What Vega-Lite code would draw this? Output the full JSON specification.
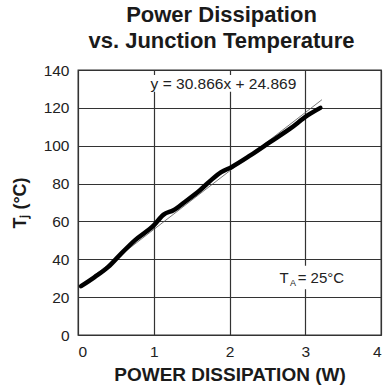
{
  "$schema": "https://vega.github.io/schema/vega-lite/v6.json",
  "autosize": "none",
  "width": 303,
  "height": 265,
  "padding": {"left": 78, "top": 70, "right": 5, "bottom": 50},
  "background": "white",
  "title": {
    "text": ["Power Dissipation", "vs. Junction Temperature"],
    "font": "Liberation Sans",
    "fontSize": 22,
    "fontWeight": "bold",
    "color": "#1a1a1a",
    "anchor": "middle",
    "dx": -8,
    "offset": 10,
    "lineHeight": 26
  },
  "config": {
    "view": {"stroke": "#333", "strokeWidth": 1.3},
    "axis": {
      "labelFont": "Liberation Sans",
      "labelFontSize": 15.5,
      "labelColor": "#222",
      "titleFont": "Liberation Sans",
      "titleFontWeight": "bold",
      "titleColor": "#1a1a1a",
      "ticks": false,
      "domain": false,
      "gridColor": "#333",
      "gridOpacity": 1,
      "gridWidth": 1.2,
      "labelOverlap": false,
      "format": "d"
    },
    "axisX": {"values": [0, 1, 2, 3, 4], "titleFontSize": 19, "labelPadding": 9, "titlePadding": 6},
    "axisY": {"values": [0, 20, 40, 60, 80, 100, 120, 140], "titleFontSize": 18, "labelPadding": 9, "titlePadding": 14}
  },
  "datasets": {
    "measured": [
      {"p": 0.04, "t": 25.8},
      {"p": 0.22, "t": 30.6},
      {"p": 0.4, "t": 36.0},
      {"p": 0.57, "t": 43.0},
      {"p": 0.75, "t": 50.0},
      {"p": 1.0, "t": 57.9},
      {"p": 1.13, "t": 63.6},
      {"p": 1.26, "t": 65.9},
      {"p": 1.41, "t": 70.3},
      {"p": 1.61, "t": 76.5},
      {"p": 1.79, "t": 83.0},
      {"p": 1.89, "t": 86.0},
      {"p": 2.03, "t": 88.8},
      {"p": 2.28, "t": 95.0},
      {"p": 2.54, "t": 102.0},
      {"p": 2.8, "t": 109.0},
      {"p": 3.03, "t": 116.0},
      {"p": 3.2, "t": 120.0}
    ],
    "fit": [
      {"p": 0.04, "t": 26.1},
      {"p": 3.22, "t": 124.3}
    ],
    "notes": [
      {"label": "equation", "text": "y = 30.866x + 24.869"},
      {"label": "ambient", "text": "= 25°C"}
    ]
  },
  "layer": [
    {
      "data": {"name": "fit"},
      "mark": {"type": "line", "color": "#555", "strokeWidth": 0.8},
      "encoding": {
        "x": {
          "field": "p", "type": "quantitative",
          "scale": {"domain": [0, 4], "nice": false},
          "axis": {"values": [0, 1, 2, 3, 4], "title": "POWER DISSIPATION (W)"}
        },
        "y": {
          "field": "t", "type": "quantitative",
          "scale": {"domain": [0, 140], "nice": false},
          "axis": {"values": [0, 20, 40, 60, 80, 100, 120, 140], "title": "Tⱼ (°C)"}
        }
      }
    },
    {
      "data": {"name": "notes"},
      "transform": [{"filter": "datum.label === 'equation'"}],
      "mark": {"type": "rect", "color": "white"},
      "encoding": {
        "x": {"datum": 0.88, "type": "quantitative", "axis": {"values": [0, 1, 2, 3, 4], "title": "POWER DISSIPATION (W)"}},
        "x2": {"datum": 2.95},
        "y": {"datum": 128.5, "type": "quantitative", "axis": {"values": [0, 20, 40, 60, 80, 100, 120, 140], "title": "Tⱼ (°C)"}},
        "y2": {"datum": 137.3}
      }
    },
    {
      "data": {"name": "notes"},
      "transform": [{"filter": "datum.label === 'ambient'"}],
      "mark": {"type": "rect", "color": "white"},
      "encoding": {
        "x": {"datum": 2.62, "type": "quantitative", "axis": {"values": [0, 1, 2, 3, 4], "title": "POWER DISSIPATION (W)"}},
        "x2": {"datum": 3.57},
        "y": {"datum": 24.2, "type": "quantitative", "axis": {"values": [0, 20, 40, 60, 80, 100, 120, 140], "title": "Tⱼ (°C)"}},
        "y2": {"datum": 36.6}
      }
    },
    {
      "data": {"name": "measured"},
      "mark": {"type": "line", "color": "black", "strokeWidth": 4.5, "strokeCap": "round", "strokeJoin": "round", "interpolate": "monotone"},
      "encoding": {
        "x": {"field": "p", "type": "quantitative", "axis": {"values": [0, 1, 2, 3, 4], "title": "POWER DISSIPATION (W)"}},
        "y": {"field": "t", "type": "quantitative", "axis": {"values": [0, 20, 40, 60, 80, 100, 120, 140], "title": "Tⱼ (°C)"}}
      }
    },
    {
      "data": {"name": "fit"},
      "mark": {"type": "line", "color": "#666", "strokeWidth": 0.8},
      "transform": [{"filter": "datum.p > 3"}],
      "encoding": {
        "x": {"field": "p", "type": "quantitative", "axis": {"values": [0, 1, 2, 3, 4], "title": "POWER DISSIPATION (W)"}},
        "y": {"field": "t", "type": "quantitative", "axis": {"values": [0, 20, 40, 60, 80, 100, 120, 140], "title": "Tⱼ (°C)"}}
      }
    },
    {
      "data": {"name": "notes"},
      "transform": [{"filter": "datum.label === 'equation'"}],
      "mark": {"type": "text", "font": "Liberation Sans", "fontSize": 15.5, "color": "#222", "align": "center", "baseline": "middle"},
      "encoding": {
        "x": {"datum": 1.92, "type": "quantitative", "axis": {"values": [0, 1, 2, 3, 4], "title": "POWER DISSIPATION (W)"}},
        "y": {"datum": 132.6, "type": "quantitative", "axis": {"values": [0, 20, 40, 60, 80, 100, 120, 140], "title": "Tⱼ (°C)"}},
        "text": {"field": "text", "type": "nominal"}
      }
    },
    {
      "data": {"name": "notes"},
      "transform": [{"filter": "datum.label === 'ambient'"}],
      "mark": {"type": "text", "font": "Liberation Sans", "fontSize": 15, "color": "#222", "align": "left", "baseline": "middle"},
      "encoding": {
        "x": {"datum": 2.66, "type": "quantitative", "axis": {"values": [0, 1, 2, 3, 4], "title": "POWER DISSIPATION (W)"}},
        "y": {"datum": 30.2, "type": "quantitative", "axis": {"values": [0, 20, 40, 60, 80, 100, 120, 140], "title": "Tⱼ (°C)"}},
        "text": {"value": "T"}
      }
    },
    {
      "data": {"name": "notes"},
      "transform": [{"filter": "datum.label === 'ambient'"}],
      "mark": {"type": "text", "font": "Liberation Sans", "fontSize": 9, "color": "#222", "align": "left", "baseline": "middle", "dy": 5},
      "encoding": {
        "x": {"datum": 2.8, "type": "quantitative", "axis": {"values": [0, 1, 2, 3, 4], "title": "POWER DISSIPATION (W)"}},
        "y": {"datum": 30.2, "type": "quantitative", "axis": {"values": [0, 20, 40, 60, 80, 100, 120, 140], "title": "Tⱼ (°C)"}},
        "text": {"value": "A"}
      }
    },
    {
      "data": {"name": "notes"},
      "transform": [{"filter": "datum.label === 'ambient'"}],
      "mark": {"type": "text", "font": "Liberation Sans", "fontSize": 15, "color": "#222", "align": "left", "baseline": "middle"},
      "encoding": {
        "x": {"datum": 2.9, "type": "quantitative", "axis": {"values": [0, 1, 2, 3, 4], "title": "POWER DISSIPATION (W)"}},
        "y": {"datum": 30.2, "type": "quantitative", "axis": {"values": [0, 20, 40, 60, 80, 100, 120, 140], "title": "Tⱼ (°C)"}},
        "text": {"field": "text", "type": "nominal"}
      }
    }
  ]
}
